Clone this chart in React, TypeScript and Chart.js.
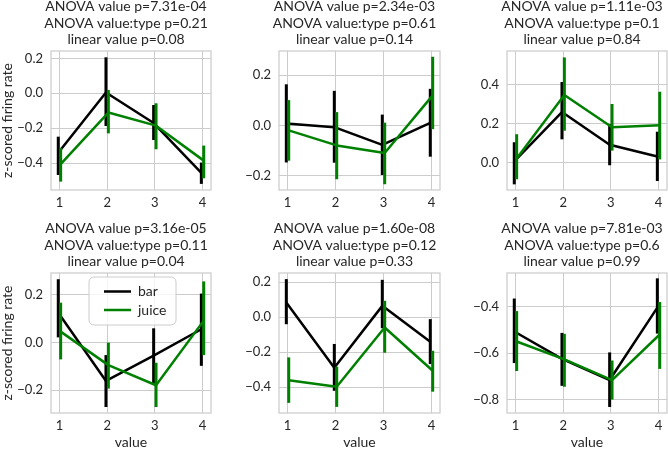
import React, { useEffect, useRef } from 'react';
import { Chart, registerables } from 'chart.js';

Chart.register(...registerables);

// ---------- data ----------
const values = [1, 2, 3, 4];
const seriesNames = ['bar', 'juice'];
const seriesColors = ['#000000', '#008000'];
const dodge = [-0.025, 0.025];

const anovaValueP = ['7.31e-04', '2.34e-03', '1.11e-03', '3.16e-05', '1.60e-08', '7.81e-03'];
const anovaInteractionP = ['0.21', '0.61', '0.1', '0.11', '0.12', '0.6'];
const linearValueP = ['0.08', '0.14', '0.84', '0.04', '0.33', '0.99'];

// one row per panel, one column per value (1..4)
const barMean = [
  [-0.34, 0.005, -0.17, -0.455],
  [0.008, -0.007, -0.078, 0.01],
  [0.005, 0.258, 0.09, 0.03],
  [0.124, -0.161, -0.055, 0.055],
  [0.084, -0.289, 0.065, -0.14],
  [-0.507, -0.625, -0.716, -0.404],
];
const barLow = [
  [-0.467, -0.187, -0.267, -0.518],
  [-0.148, -0.149, -0.198, -0.125],
  [-0.113, 0.118, -0.015, -0.096],
  [0.021, -0.27, -0.172, -0.098],
  [-0.04, -0.421, -0.063, -0.268],
  [-0.643, -0.741, -0.832, -0.516],
];
const barHigh = [
  [-0.248, 0.206, -0.067, -0.396],
  [0.164, 0.138, 0.043, 0.146],
  [0.103, 0.412, 0.197, 0.157],
  [0.264, -0.053, 0.059, 0.204],
  [0.218, -0.153, 0.214, -0.011],
  [-0.365, -0.513, -0.597, -0.278],
];
const juiceMean = [
  [-0.405, -0.11, -0.185, -0.385],
  [-0.02, -0.08, -0.11, 0.12],
  [0.02, 0.345, 0.18, 0.19],
  [0.045, -0.095, -0.179, 0.091],
  [-0.36, -0.398, -0.059, -0.306],
  [-0.55, -0.627, -0.716, -0.52],
];
const juiceLow = [
  [-0.505, -0.229, -0.32, -0.486],
  [-0.141, -0.215, -0.235, -0.015],
  [-0.087, 0.162, 0.06, 0.015],
  [-0.071, -0.193, -0.27, -0.053],
  [-0.49, -0.513, -0.203, -0.426],
  [-0.677, -0.745, -0.8, -0.668],
];
const juiceHigh = [
  [-0.312, 0.019, -0.057, -0.299],
  [0.101, 0.053, 0.011, 0.274],
  [0.144, 0.538, 0.299, 0.362],
  [0.166, -0.001, -0.085, 0.255],
  [-0.23, -0.283, 0.094, -0.192],
  [-0.419, -0.517, -0.632, -0.38],
];

const yMin = [-0.553, -0.258, -0.142, -0.295, -0.548, -0.858];
const yMax = [0.242, 0.297, 0.571, 0.29, 0.253, -0.255];
const yTicks = [
  [-0.4, -0.2, 0.0, 0.2],
  [-0.2, 0.0, 0.2],
  [0.0, 0.2, 0.4],
  [-0.2, 0.0, 0.2],
  [-0.4, -0.2, 0.0, 0.2],
  [-0.8, -0.6, -0.4],
];
const xMin = 0.8225;
const xMax = 4.1775;

const yAxisTitle = 'z-scored firing rate';
const xAxisTitle = 'value';

// ---------- layout ----------
const FONT = "Lato, 'Open Sans', sans-serif";
const TEXT = '#262626';
const GRID = '#cccccc';
const colCanvas = [[0, 222], [222, 450], [450, 668]];
const rowCanvas = [[0, 222], [222, 451]];
const plotL = [51, 279, 507];
const plotR = [211, 440, 667];
const plotT = [51, 273];
const plotB = [190, 413];

const fmt = (v: number) => {
  const s = Number(v).toFixed(1);
  return s.startsWith('-') ? '\u2212' + s.slice(1) : s;
};

const errorBarPlugin = {
  id: 'errorBars',
  afterDatasetDraw(chart: any, args: any) {
    const ds: any = chart.data.datasets[args.index];
    if (!ds.errLow) return;
    const { ctx, chartArea } = chart;
    const xs = chart.scales.x;
    const ys = chart.scales.y;
    ctx.save();
    ctx.beginPath();
    ctx.rect(chartArea.left, chartArea.top, chartArea.right - chartArea.left, chartArea.bottom - chartArea.top);
    ctx.clip();
    ctx.strokeStyle = ds.borderColor;
    ctx.lineWidth = 3;
    ctx.lineCap = 'butt';
    ds.data.forEach((pt: any, i: number) => {
      const x = xs.getPixelForValue(pt.x);
      ctx.beginPath();
      ctx.moveTo(x, ys.getPixelForValue(ds.errLow[i]));
      ctx.lineTo(x, ys.getPixelForValue(ds.errHigh[i]));
      ctx.stroke();
    });
    ctx.restore();
  },
};

const framePlugin = {
  id: 'frame',
  beforeDatasetsDraw(chart: any) {
    const { ctx, chartArea } = chart;
    ctx.save();
    ctx.strokeStyle = GRID;
    ctx.lineWidth = 1.25;
    ctx.strokeRect(chartArea.left, chartArea.top, chartArea.right - chartArea.left, chartArea.bottom - chartArea.top);
    ctx.restore();
  },
};

const panelTitlePlugin = {
  id: 'panelTitle',
  afterDraw(chart: any, _args: any, opts: any) {
    const lines: string[] = opts.lines || [];
    const { ctx, chartArea } = chart;
    ctx.save();
    ctx.font = `14px ${FONT}`;
    ctx.fillStyle = TEXT;
    ctx.textAlign = 'center';
    ctx.textBaseline = 'alphabetic';
    const cx = (chartArea.left + chartArea.right) / 2 - 5;
    lines.forEach((t, i) => ctx.fillText(t, cx, chartArea.top - 40 + i * 16.7));
    ctx.restore();
  },
};

const boxLegendPlugin = {
  id: 'boxLegend',
  afterDraw(chart: any, _args: any, opts: any) {
    if (!opts.show) return;
    const { ctx, chartArea } = chart;
    const left = chartArea.left + 38;
    const top = chartArea.top + 4;
    const w = 87;
    const h = 48;
    ctx.save();
    ctx.beginPath();
    ctx.roundRect(left, top, w, h, 5);
    ctx.fillStyle = 'rgba(255,255,255,0.8)';
    ctx.fill();
    ctx.strokeStyle = GRID;
    ctx.lineWidth = 1;
    ctx.stroke();
    ctx.font = `14px ${FONT}`;
    ctx.textAlign = 'left';
    ctx.textBaseline = 'middle';
    chart.data.datasets.forEach((ds: any, i: number) => {
      const y = top + 14.5 + i * 18.5;
      ctx.strokeStyle = ds.borderColor;
      ctx.lineWidth = 2.5;
      ctx.beginPath();
      ctx.moveTo(left + 15, y);
      ctx.lineTo(left + 42, y);
      ctx.stroke();
      ctx.fillStyle = TEXT;
      ctx.fillText(ds.label, left + 49, y);
    });
    ctx.restore();
  },
};

function buildConfig(p: number) {
  const r = Math.floor(p / 3);
  const c = p % 3;
  const [cx0, cx1] = colCanvas[c];
  const [cy0, cy1] = rowCanvas[r];
  const yw = plotL[c] - cx0;
  const xh = cy1 - plotB[r];
  const means = [barMean[p], juiceMean[p]];
  const lows = [barLow[p], juiceLow[p]];
  const highs = [barHigh[p], juiceHigh[p]];
  const datasets = seriesNames.map((name, s) => ({
    type: 'line' as const,
    label: name,
    data: values.map((v, i) => ({ x: v + dodge[s], y: means[s][i] })),
    errLow: lows[s],
    errHigh: highs[s],
    borderColor: seriesColors[s],
    backgroundColor: seriesColors[s],
    borderWidth: 2.5,
    pointRadius: 0,
    tension: 0,
    borderJoinStyle: 'round',
    order: s === 0 ? 1 : 0,
  }));
  return {
    type: 'line',
    data: { datasets },
    plugins: [framePlugin, errorBarPlugin, panelTitlePlugin, boxLegendPlugin],
    options: {
      animation: false,
      responsive: false,
      maintainAspectRatio: false,
      devicePixelRatio: 1,
      events: [],
      layout: {
        padding: { left: 0, right: cx1 - plotR[c], top: plotT[r] - cy0, bottom: 0 },
      },
      plugins: {
        legend: { display: false },
        tooltip: { enabled: false },
        title: { display: false },
        panelTitle: {
          lines: [
            `ANOVA value p=${anovaValueP[p]}`,
            `ANOVA value:type p=${anovaInteractionP[p]}`,
            `linear value p=${linearValueP[p]}`,
          ],
        },
        boxLegend: { show: p === 3 },
      },
      scales: {
        x: {
          type: 'linear',
          min: xMin,
          max: xMax,
          afterBuildTicks: (s: any) => {
            s.ticks = values.map((v) => ({ value: v }));
          },
          afterFit: (s: any) => {
            s.height = xh;
          },
          grid: { color: GRID, lineWidth: 1, drawTicks: false },
          border: { display: false },
          ticks: {
            padding: 5,
            color: TEXT,
            font: { family: FONT, size: 13 },
            callback: (v: any) => String(v),
          },
          title: {
            display: r === 1,
            text: xAxisTitle,
            color: TEXT,
            font: { family: FONT, size: 14, lineHeight: 1.2 },
            padding: { top: 0, bottom: 0 },
          },
        },
        y: {
          type: 'linear',
          min: yMin[p],
          max: yMax[p],
          afterBuildTicks: (s: any) => {
            s.ticks = yTicks[p].map((v) => ({ value: v }));
          },
          afterFit: (s: any) => {
            s.width = yw;
          },
          grid: { color: GRID, lineWidth: 1, drawTicks: false },
          border: { display: false },
          ticks: {
            padding: 8,
            color: TEXT,
            font: { family: FONT, size: 13 },
            callback: (v: any) => fmt(v),
          },
          title: {
            display: c === 0,
            text: yAxisTitle,
            color: TEXT,
            font: { family: FONT, size: 14, lineHeight: 1.0 },
            padding: { top: 0, bottom: 0 },
          },
        },
      },
    },
  };
}

function Panel({ p }: { p: number }) {
  const ref = useRef<HTMLCanvasElement | null>(null);
  const r = Math.floor(p / 3);
  const c = p % 3;
  const [cx0, cx1] = colCanvas[c];
  const [cy0, cy1] = rowCanvas[r];
  useEffect(() => {
    if (!ref.current) return;
    const chart = new Chart(ref.current, buildConfig(p) as any);
    return () => chart.destroy();
  }, [p]);
  return (
    <canvas
      ref={ref}
      width={cx1 - cx0}
      height={cy1 - cy0}
      style={{ position: 'absolute', left: cx0, top: cy0, width: cx1 - cx0, height: cy1 - cy0 }}
    />
  );
}

export default function App() {
  return (
    <div style={{ position: 'fixed', left: 0, top: 0, width: 668, height: 451, background: '#ffffff' }}>
      {[0, 1, 2, 3, 4, 5].map((p) => (
        <Panel key={p} p={p} />
      ))}
    </div>
  );
}
